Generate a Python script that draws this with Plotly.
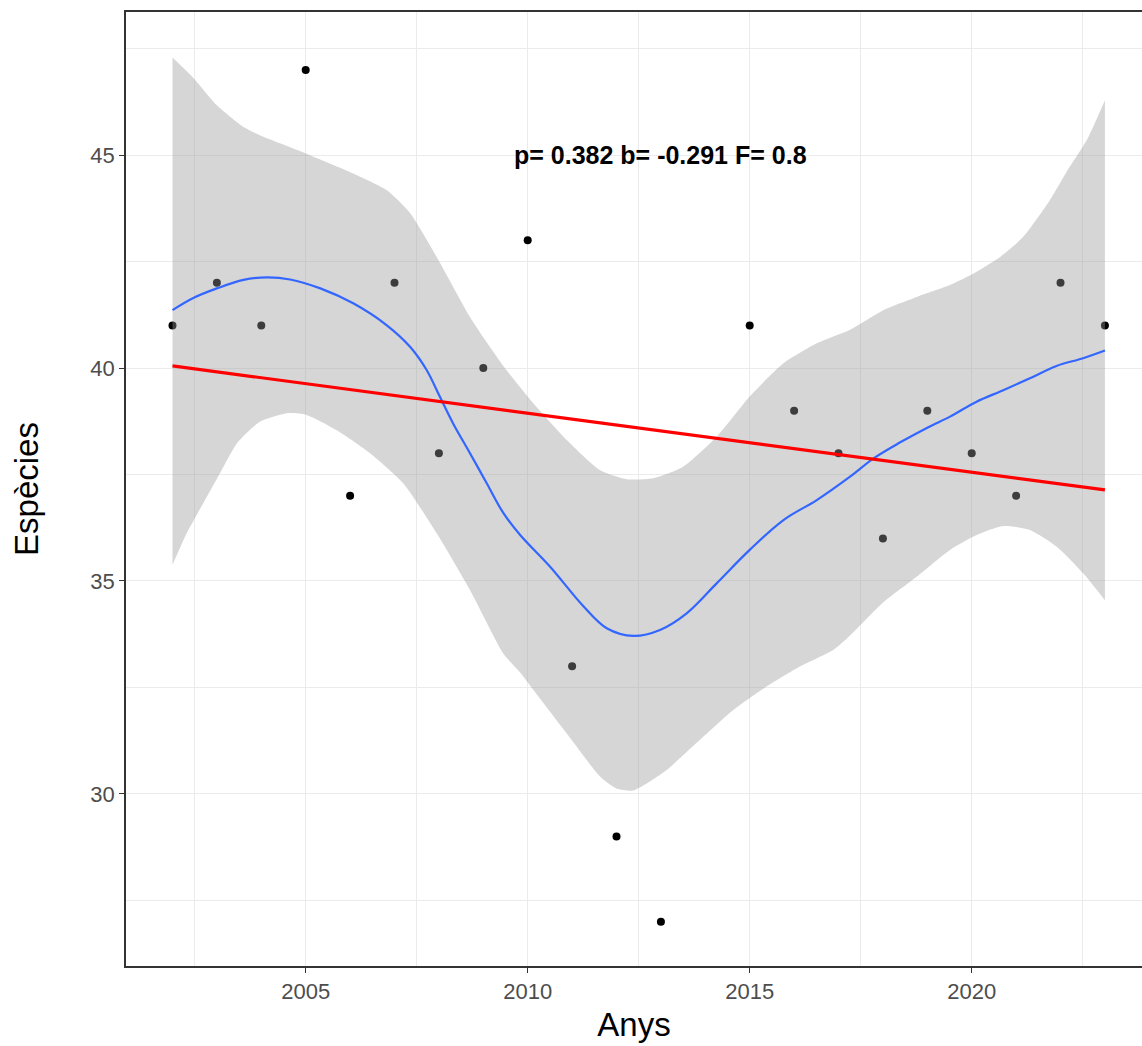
import plotly.graph_objects as go

# ---- data ----
years = [2002, 2003, 2004, 2005, 2006, 2007, 2008, 2009, 2010, 2011, 2012, 2013,
         2015, 2016, 2017, 2018, 2019, 2020, 2021, 2022, 2023]
species = [41, 42, 41, 47, 37, 42, 38, 40, 43, 33, 29, 27,
           41, 39, 38, 36, 39, 38, 37, 42, 41]

# linear trend (red)
trend_years = [2002, 2023]
trend_values = [40.05, 37.14]

# loess curve (blue)
loess_years = [2002.0, 2002.48, 2003.0, 2003.6, 2004.13, 2004.65, 2005.33, 2006.07, 2006.82,
               2007.35, 2007.72, 2008.02, 2008.32, 2008.7, 2009.08, 2009.45, 2009.83, 2010.5,
               2011.26, 2011.78, 2012.38, 2012.98, 2013.58, 2014.26, 2015.0, 2015.76, 2016.51,
               2017.26, 2017.79, 2018.38, 2019.0, 2019.51, 2020.11, 2020.71, 2021.31, 2021.91,
               2022.51, 2023.0]
loess_values = [41.36, 41.65, 41.87, 42.07, 42.13, 42.08, 41.87, 41.52, 41.01,
                40.5, 39.96, 39.33, 38.7, 38.0, 37.29, 36.6, 36.08, 35.34,
                34.4, 33.89, 33.71, 33.85, 34.24, 34.95, 35.73, 36.43, 36.9,
                37.45, 37.88, 38.25, 38.6, 38.86, 39.21, 39.48, 39.76, 40.05,
                40.23, 40.41]

# confidence band of loess
band_upper_years = [2002.0, 2002.48, 2003.0, 2003.6, 2004.05, 2005.0, 2006.07, 2006.82, 2007.35,
                    2007.95, 2008.7, 2009.08, 2009.45, 2009.83, 2010.13, 2010.88, 2011.63,
                    2012.23, 2012.83, 2013.5, 2014.26, 2015.0, 2015.76, 2016.51, 2017.26,
                    2018.01, 2018.76, 2019.51, 2020.04, 2020.64, 2021.16, 2021.76, 2022.21,
                    2022.59, 2023.0]
band_upper_values = [47.29, 46.8, 46.17, 45.66, 45.43, 45.04, 44.57, 44.18, 43.64,
                     42.61, 41.2, 40.6, 40.05, 39.55, 39.17, 38.31, 37.6,
                     37.39, 37.41, 37.68, 38.39, 39.33, 40.11, 40.58, 40.9,
                     41.36, 41.67, 41.95, 42.22, 42.61, 43.08, 43.94, 44.73,
                     45.35, 46.29]
band_lower_years = [2002.0, 2002.32, 2002.69, 2003.07, 2003.45, 2003.97, 2004.57, 2005.02, 2005.7,
                    2006.45, 2007.2, 2007.95, 2008.7, 2009.45, 2009.83, 2010.13, 2010.88,
                    2011.63, 2012.0, 2012.38, 2012.75, 2013.13, 2013.88, 2014.63, 2015.38,
                    2016.13, 2016.88, 2017.26, 2018.01, 2018.76, 2019.51, 2020.11, 2020.71,
                    2021.31, 2021.91, 2022.51, 2023.0]
band_lower_values = [35.38, 36.12, 36.82, 37.53, 38.23, 38.74, 38.94, 38.9, 38.54,
                     38.0, 37.29, 36.12, 34.79, 33.3, 32.85, 32.44, 31.42,
                     30.41, 30.13, 30.08, 30.29, 30.56, 31.27, 31.97, 32.52,
                     32.99, 33.38, 33.72, 34.5, 35.1, 35.73, 36.08, 36.29,
                     36.2, 35.81, 35.18, 34.55]

x_ticks = [2005, 2010, 2015, 2020]
y_ticks = [30, 35, 40, 45]
stats_text = "p= 0.382 b= -0.291 F= 0.8"

fig = go.Figure()

# points (drawn first, band overlays them)
fig.add_trace(go.Scatter(x=years, y=species, mode="markers",
                         marker=dict(color="black", size=8), showlegend=False))

# confidence band: lower edge, then upper edge filled down to it
fig.add_trace(go.Scatter(x=band_lower_years, y=band_lower_values, mode="lines",
                         line=dict(width=0, shape="spline", smoothing=0.6),
                         hoverinfo="skip", showlegend=False))
fig.add_trace(go.Scatter(x=band_upper_years, y=band_upper_values, mode="lines",
                         fill="tonexty", fillcolor="rgba(153,153,153,0.4)",
                         line=dict(width=0, shape="spline", smoothing=0.6),
                         hoverinfo="skip", showlegend=False))

# loess
fig.add_trace(go.Scatter(x=loess_years, y=loess_values, mode="lines",
                         line=dict(color="#3366FF", width=2.2, shape="spline"),
                         showlegend=False))

# linear trend
fig.add_trace(go.Scatter(x=trend_years, y=trend_values, mode="lines",
                         line=dict(color="#FF0000", width=3.2), showlegend=False))

fig.add_annotation(x=2013, y=45, text="<b>" + stats_text + "</b>", showarrow=False,
                   font=dict(family="Liberation Sans", size=25, color="black"),
                   xanchor="center", yanchor="middle")

fig.update_layout(
    width=1142, height=1046,
    margin=dict(l=126, r=0, t=12, b=80),
    paper_bgcolor="white", plot_bgcolor="white",
    font=dict(family="Liberation Sans"),
)
fig.update_xaxes(
    range=[2000.953, 2023.835], tickvals=x_ticks, ticktext=[str(v) for v in x_ticks],
    showgrid=True, gridcolor="#ebebeb", gridwidth=1.2,
    minor=dict(tickvals=[2002.5, 2007.5, 2012.5, 2017.5, 2022.5],
               showgrid=True, gridcolor="#ebebeb", gridwidth=1),
    zeroline=False, showline=True, linecolor="#333333", linewidth=1.5, mirror=True,
    ticks="outside", ticklen=5, tickcolor="#333333", tickwidth=1.2,
    tickfont=dict(family="Liberation Sans", size=22, color="#4d4d4d"),
    title=dict(text="Anys", font=dict(family="Liberation Sans", size=33, color="black"),
               standoff=10),
)
fig.update_yaxes(
    range=[25.96, 48.36], tickvals=y_ticks, ticktext=[str(v) for v in y_ticks],
    showgrid=True, gridcolor="#ebebeb", gridwidth=1.2,
    minor=dict(tickvals=[27.5, 32.5, 37.5, 42.5, 47.5],
               showgrid=True, gridcolor="#ebebeb", gridwidth=1),
    zeroline=False, showline=True, linecolor="#333333", linewidth=1.5, mirror=False,
    ticks="outside", ticklen=5, tickcolor="#333333", tickwidth=1.2,
    tickfont=dict(family="Liberation Sans", size=22, color="#4d4d4d"),
    title=dict(text="Espècies", font=dict(family="Liberation Sans", size=33, color="black"),
               standoff=42),
)

fig.write_html("out.html", config={"displayModeBar": False},
               post_script="document.body.style.margin='0';document.body.style.overflow='hidden';")
